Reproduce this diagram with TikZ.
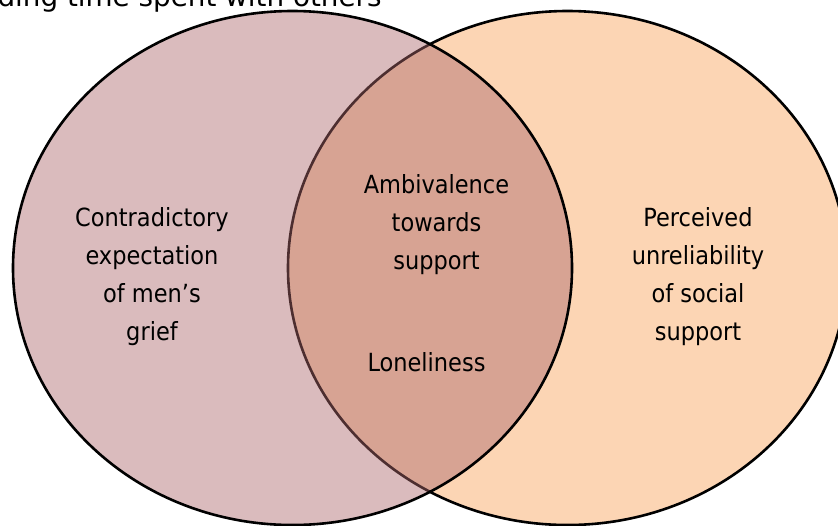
\documentclass[tikz,border=0pt]{standalone}
\usepackage{fontspec}
\setmainfont{DejaVu Sans Condensed}
\newfontfamily\headfont{DejaVu Sans}
\usetikzlibrary{positioning,shapes.geometric}
\definecolor{griefpink}{RGB}{172,104,108}
\definecolor{supportpeach}{RGB}{252,213,180}

\begin{document}
\begin{tikzpicture}[x=0.5pt, y=-0.5pt,
                    setring/.style={ellipse, draw=black, line width=1.3pt,
                    minimum width=279.5pt, minimum height=257pt, inner sep=0pt},
                    settext/.style={align=center, inner sep=0pt,
                    font=\fontsize{12.5}{19}\selectfont},
                    headtext/.style={inner sep=0pt,
                    font=\headfont\fontsize{13.9}{16}\selectfont},
                ]
                \useasboundingbox (0,0) rectangle (838,525);
                \clip (0,0) rectangle (838,525);

                % the two sets, the left one see-through over the right one
                \node[setring, fill=supportpeach] (social) at (567.5,268) {};
                \node[setring, fill=griefpink, fill opacity=0.45] (grief) at (292.5,268) {};

                \node[settext] (expectation) at (152,277) {Contradictory\\expectation\\of men’s\\grief};
                \node[settext] (ambivalence) at (436.5,224.5) {Ambivalence\\towards\\support};
                \node[settext] (loneliness) at (426.5,362.5) {Loneliness};
                \node[settext] (unreliability) at (698,277) {Perceived\\unreliability\\of social\\support};

                \node[headtext, anchor=base east] (timespent) at (382,6) {ding time spent with others};
            \end{tikzpicture}
\end{document}
